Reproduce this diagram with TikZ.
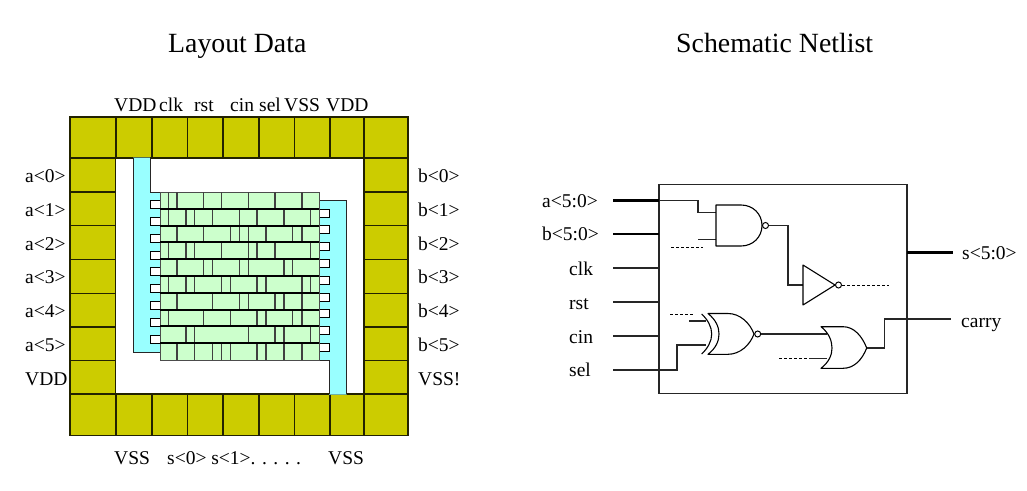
\documentclass[tikz,border=0pt]{standalone}
\usepackage{fontspec}
\setmainfont{Liberation Serif}
\definecolor{padcol}{HTML}{CCCC00}
\definecolor{metal}{HTML}{99FFFF}
\definecolor{corecol}{HTML}{CCFFCC}
\definecolor{edge}{HTML}{222200}
\tikzset{
  title/.style={anchor=base west,inner sep=0pt,font=\fontsize{27.8}{30}\selectfont},
  pin/.style={anchor=base west,inner sep=0pt,yshift=-0.7pt,font=\fontsize{19.5}{22}\selectfont},
  pad/.style={draw=edge,fill=padcol,line width=1.1pt},
  metalfill/.style={fill=metal,draw=none},
  metaledge/.style={draw=black!85,line width=1pt},
  finger/.style={draw=black,fill=white,line width=1pt},
  coreedge/.style={draw=black!70,line width=1pt},
  rowline/.style={draw=black,line width=2pt},
  celldiv/.style={draw=black!75,line width=1.3pt},
  wire/.style={draw=black!85,line width=1.1pt},
  bus/.style={draw=black,line width=2.8pt},
  stub/.style={draw=black,line width=1pt,dashed,dash pattern=on 3pt off 2pt},
  gate/.style={draw=black,line width=1.1pt,fill=white,line join=round},
  bubble/.style={circle,draw=black,fill=white,line width=1pt,inner sep=0pt,minimum size=6pt},
  blockbox/.style={draw=black!85,line width=1.3pt},
}
\begin{document}
\begin{tikzpicture}[x=1pt,y=-1pt]
\useasboundingbox (0,0) rectangle (1027,490);
\fill[white] (0,0) rectangle (1027,490);
% ---- titles
\node[title] (t1) at (168,52.5) {Layout Data};
\node[title] (t2) at (676,52.5) {Schematic Netlist};
% ---- pad ring
\foreach \a/\b in {70/116,116/152,152/187.5,187.5/223,223/259,259/294.5,294.5/330,330/364,364/408}{
  \draw[pad] (\a,117) rectangle (\b,158);
  \draw[pad] (\a,394) rectangle (\b,435.5);
}
\foreach \a/\b in {158/192,192/225.7,225.7/259.3,259.3/293.3,293.3/327,327/360.3,360.3/394}{
  \draw[pad] (70,\a) rectangle (115.5,\b);
  \draw[pad] (364,\a) rectangle (408,\b);
}
% ---- power straps
\fill[metalfill] (133,157.5) -- (150,157.5) -- (150,192) -- (160,192) -- (160,352) -- (133,352) -- cycle;
\draw[metaledge] (133,158) -- (133,352) -- (160,352);
\draw[metaledge] (150,158) -- (150,192) -- (160,192);
\fill[metalfill] (319,200.7) -- (346.5,200.7) -- (346.5,394.6) -- (329,394.6) -- (329,360) -- (319,360) -- cycle;
\draw[metaledge] (319,200.7) -- (346.5,200.7) -- (346.5,394);
\draw[metaledge] (319,360) -- (329,360) -- (329,394);
% ---- fingers
\foreach \i in {0,...,8}{
  \draw[finger] (150,{200.7+16.8*\i}) rectangle (160,{208.7+16.8*\i});
  \draw[finger] (319,{209+16.8*\i}) rectangle (329,{217+16.8*\i});
}
% ---- core
\draw[coreedge,fill=corecol] (160,192) rectangle (319.3,360);
\foreach \r/\list in {
  0/{40,66,146,199,280,360,441},
  1/{40,93,119,173,253,306,387,467},
  2/{66,146,226,253,280,333,413,441},
  3/{40,93,119,199,280,306,360,467},
  4/{66,146,173,253,280,387,413},
  5/{40,93,119,199,226,306,333,441,467},
  6/{66,173,253,280,360,387,441},
  7/{40,146,226,306,333,413,441},
  8/{93,119,280,360,387,467},
  9/{66,119,173,199,226,306,333,387,441}}{
  \foreach \p in \list {
    \draw[celldiv] ({155+\p/3},{192+16.8*\r}) -- ({155+\p/3},{192+16.8*(\r+1)});
  }
}
\foreach \i in {1,...,9}{
  \draw[rowline] (160,{192+16.8*\i}) -- (319.3,{192+16.8*\i});
}
% ---- layout labels
\node[pin] (lvdd) at (114,110.7) {VDD};
\node[pin] (lclk) at (159,110.7) {clk};
\node[pin] (lrst) at (194,110.7) {rst};
\node[pin] (lcin) at (230,110.7) {cin};
\node[pin] (lsel) at (259,110.7) {sel};
\node[pin] (lvss) at (284,110.7) {VSS};
\node[pin] (lvdb) at (326,110.7) {VDD};
\foreach \i in {0,...,5}{
  \node[pin] (la\i) at (25,{181.7+33.8*\i}) {a<\i>};
  \node[pin] (lb\i) at (418,{181.7+33.8*\i}) {b<\i>};
}
\node[pin] (lvl) at (25,384.5) {VDD};
\node[pin] (lvr) at (418,384.5) {VSS!};
\node[pin] (bvss) at (114,463.5) {VSS};
\node[pin] (bs) at (167,463.5) {s<0> s<1>. . . . .};
\node[pin] (bvsr) at (328,463.5) {VSS};
% ---- schematic block
\node[blockbox,draw,minimum width=248pt,minimum height=209.2pt,inner sep=0pt] (block) at (783,288.9) {};
\node[pin] (na) at (542,206.7) {a<5:0>};
\node[pin] (nb) at (542,240) {b<5:0>};
\node[pin] (nclk) at (569,275) {clk};
\node[pin] (nrst) at (569,309) {rst};
\node[pin] (ncin) at (569,342.6) {cin};
\node[pin] (nsel) at (569,376) {sel};
\node[pin] (ns) at (962,259) {s<5:0>};
\node[pin] (ncar) at (961,327) {carry};
% pins
\coordinate (ain) at (613,200.5); \coordinate (ab) at (659,200.5);
\coordinate (bin) at (613,234); \coordinate (bb) at (659,234);
\coordinate (clkin) at (613,268); \coordinate (clkb) at (659,268);
\coordinate (rstin) at (613,302); \coordinate (rstb) at (659,302);
\coordinate (cinin) at (613,336); \coordinate (cinb) at (659,336);
\coordinate (selin) at (613,370); \coordinate (xb) at (706,345);
\coordinate (sb) at (907,252.5); \coordinate (sout) at (953,252.5);
\coordinate (carout) at (951,319);
\draw[bus] (ain) -- (ab);
\draw[bus] (bin) -- (bb);
\draw[bus] (sb) -- (sout);
\draw[wire] (clkin) -- (clkb);
\draw[wire] (rstin) -- (rstb);
\draw[wire] (cinin) -- (cinb);
% NAND
\coordinate (n1) at (716,212.5); \coordinate (n2) at (716,239.5);
\coordinate (n2s) at (698,239.5);
\draw[wire] (ab) -- (698,200.5) -- (698,212.5) -- (n1);
\draw[wire] (n2s) -- (n2);
\draw[gate] (716,205) -- (741,205) .. controls (753,205) and (762,214) .. (762,225.5) .. controls (762,237) and (753,246) .. (741,246) -- (716,246) -- cycle;
\node[bubble] (nb1) at (765.5,225.5) {};
\coordinate (ds1) at (671,247); \coordinate (ds1e) at (703,247);
\draw[stub] (ds1) -- (ds1e);
% inverter
\coordinate (iin) at (803,285);
\draw[wire] (nb1) -- (788,225.5) -- (788,285) -- (iin);
\draw[gate] (803,265) -- (835,285) -- (803,305) -- cycle;
\node[bubble] (ib) at (838.5,285) {};
\coordinate (ds2) at (889,285);
\draw[stub] (ib) -- (ds2);
% XNOR
\coordinate (x1s) at (689,321); \coordinate (x1) at (706,321);
\draw[wire] (x1s) -- (x1);
\draw[wire] (selin) -- (677,370) -- (677,345) -- (xb);
\coordinate (ds3) at (670,314.3); \coordinate (ds3e) at (694,314.3);
\draw[stub] (ds3) -- (ds3e);
\draw[gate,fill=none] (701.7,314) .. controls (708,320) and (711.7,327) .. (711.7,334) .. controls (711.7,341) and (708,348) .. (701.7,354);
\draw[gate] (708,313.5) -- (728,313.5) .. controls (740,313.5) and (750,323) .. (754,334) .. controls (750,345) and (740,354.3) .. (728,354.3) -- (708,354.3) .. controls (716,348) and (719,341) .. (719,334) .. controls (719,327) and (716,320) .. (708,313.5) -- cycle;
\node[bubble] (xbub) at (757.7,334) {};
% OR
\coordinate (o1) at (827,334); \coordinate (o2) at (827,358.3);
\coordinate (ds4) at (779,358.3); \coordinate (ds4e) at (809,358.3);
\draw[wire] (xbub) -- (o1);
\draw[stub] (ds4) -- (ds4e);
\draw[wire] (ds4e) -- (o2);
\draw[gate] (821,326.7) -- (843,326.7) .. controls (854,326.7) and (862,336) .. (866.7,348) .. controls (862,360) and (854,368.3) .. (843,368.3) -- (821,368.3) .. controls (829,362) and (832,355) .. (832,348) .. controls (832,341) and (829,333) .. (821,326.7) -- cycle;
\coordinate (oout) at (866.7,348);
\draw[wire] (oout) -- (884.3,348) -- (884.3,319) -- (carout);
\end{tikzpicture}
\end{document}
